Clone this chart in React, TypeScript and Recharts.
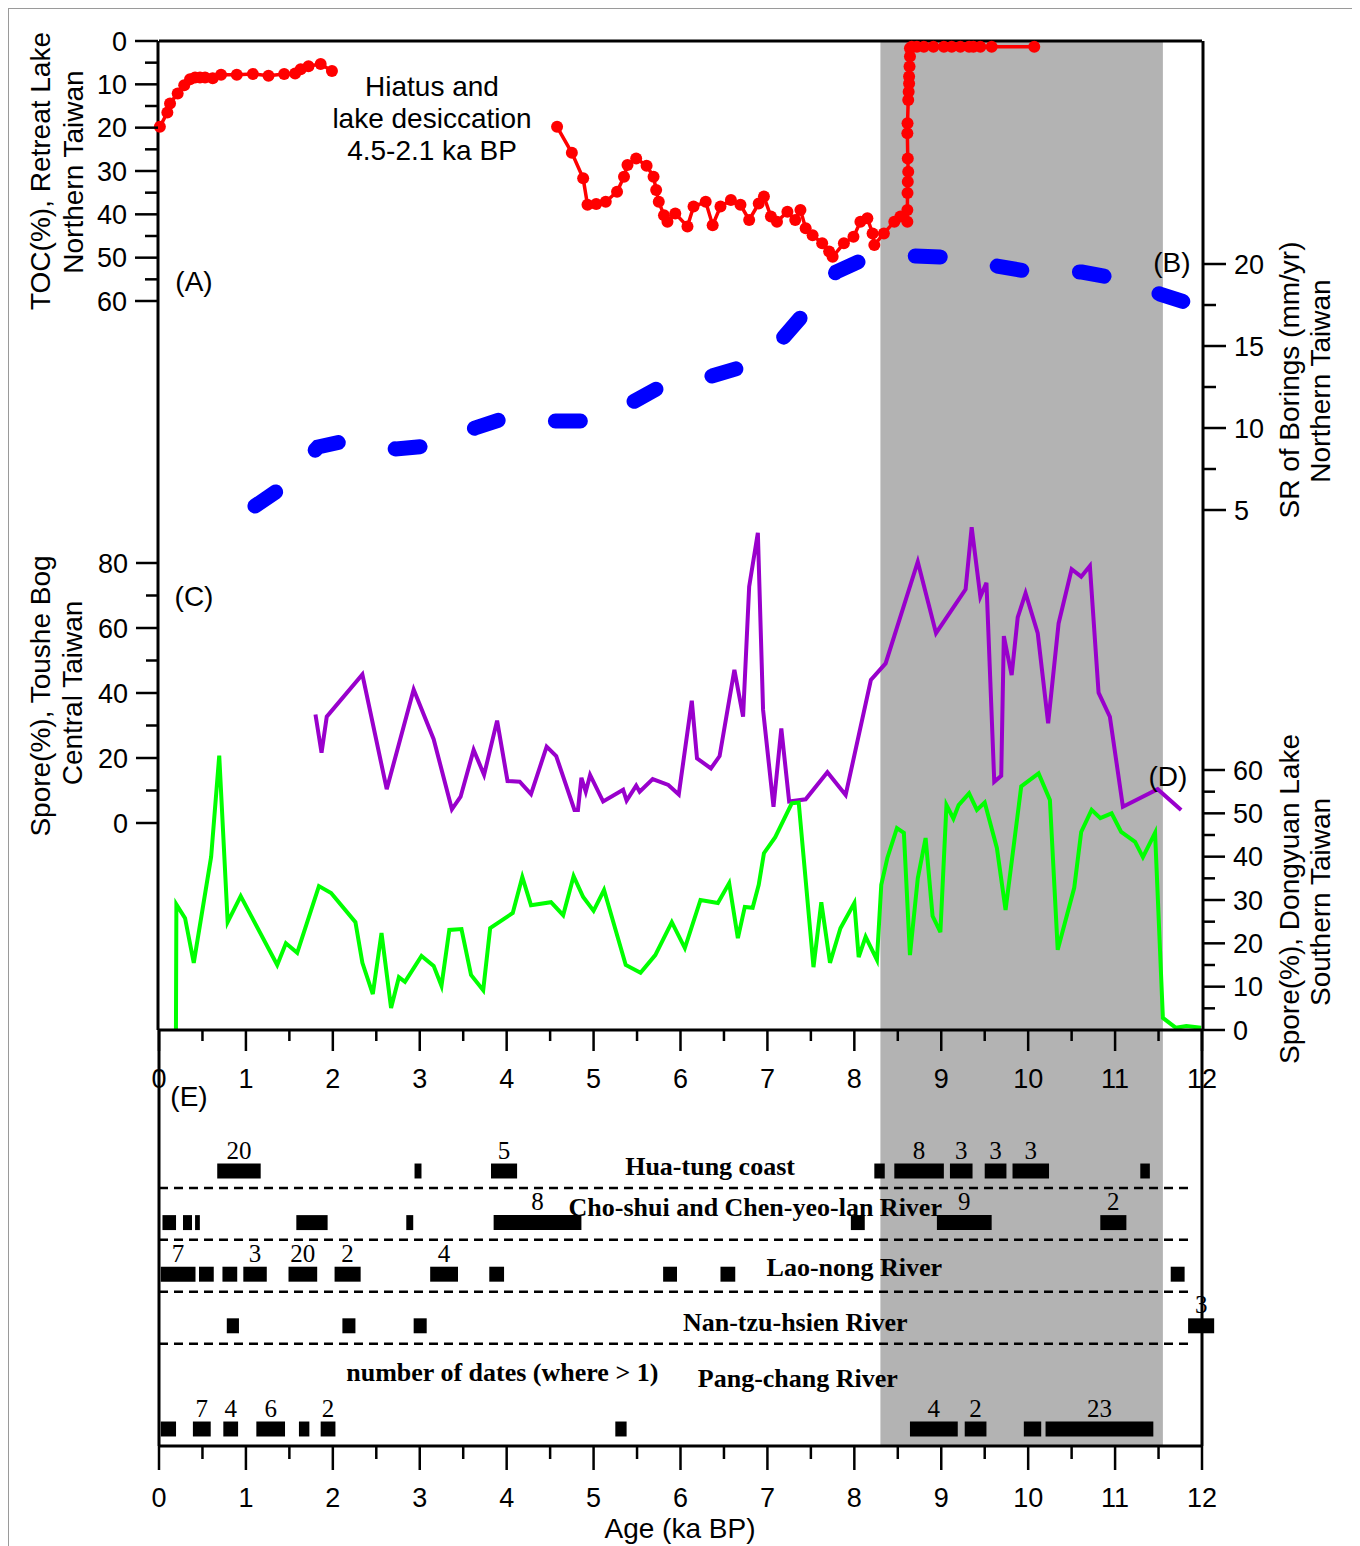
import React from 'react';
import { ComposedChart, Line, XAxis, YAxis, ReferenceArea, ReferenceLine, ReferenceDot } from 'recharts';

// ---------- axis ticks ----------
const AGE_TICKS = [0, 0.5, 1, 1.5, 2, 2.5, 3, 3.5, 4, 4.5, 5, 5.5, 6, 6.5, 7, 7.5, 8, 8.5, 9, 9.5, 10, 10.5, 11, 11.5, 12];
const TOC_TICKS = [0, 5, 10, 15, 20, 25, 30, 35, 40, 45, 50, 55, 60];
const SR_TICKS = [5, 7.5, 10, 12.5, 15, 17.5, 20];
const SPORE_C_TICKS = [0, 10, 20, 30, 40, 50, 60, 70, 80];
const SPORE_D_TICKS = [0, 5, 10, 15, 20, 25, 30, 35, 40, 45, 50, 55, 60];

// shaded interval (ka BP)
const SHADE = [8.3, 11.55];

// ---------- (A) TOC (%), Retreat Lake : [age, TOC] ----------
const TOC_RECENT: [number, number][] = [
  [0.01, 19.8], [0.096, 16.5], [0.127, 14.4], [0.215, 12.1], [0.29, 10.2], [0.357, 8.8], [0.415, 8.4],
  [0.472, 8.4], [0.53, 8.4], [0.618, 8.6], [0.714, 7.8], [0.895, 7.8], [1.08, 7.6], [1.26, 8.0],
  [1.44, 7.6], [1.566, 7.5], [1.63, 6.5], [1.72, 5.8], [1.86, 5.3], [1.99, 6.9],
];
const TOC_EARLY: [number, number][] = [
  [4.58, 19.8], [4.75, 25.8], [4.88, 31.7], [4.93, 37.8], [5.03, 37.6], [5.14, 37.1], [5.27, 34.8],
  [5.35, 31.3], [5.39, 28.6], [5.49, 27.1], [5.61, 28.8], [5.69, 31.3], [5.72, 34.4], [5.75, 37.1],
  [5.81, 40.2], [5.85, 41.7], [5.94, 39.8], [6.08, 42.8], [6.15, 38.2], [6.29, 37.1], [6.37, 42.5],
  [6.46, 38.2], [6.58, 36.7], [6.69, 37.8], [6.79, 41.3], [6.9, 37.5], [6.96, 35.9], [7.04, 40.5],
  [7.11, 41.7], [7.23, 39.4], [7.32, 41.3], [7.38, 39.0], [7.44, 43.2], [7.52, 44.8], [7.63, 46.7],
  [7.71, 48.6], [7.75, 49.8], [7.88, 46.7], [7.99, 45.2], [8.07, 41.7], [8.15, 40.9], [8.21, 44.4],
  [8.23, 47.1], [8.34, 44.4], [8.46, 41.7], [8.53, 40.5], [8.61, 41.7], [8.61, 39.0], [8.612, 35.1],
  [8.615, 32.5], [8.62, 30.2], [8.615, 27.1], [8.61, 21.3], [8.612, 19.0], [8.62, 13.6], [8.625, 11.7],
  [8.63, 9.8], [8.63, 8.2], [8.635, 5.9], [8.64, 3.6], [8.64, 1.7], [8.66, 1.3], [8.72, 1.3],
  [8.8, 1.3], [8.91, 1.3], [9.03, 1.3], [9.12, 1.3], [9.22, 1.3], [9.32, 1.3], [9.37, 1.3],
  [9.45, 1.3], [9.58, 1.3], [10.07, 1.3],
];

// ---------- (B) SR of borings (mm/yr) ----------
const SR_POINTS: [number, number][] = [
  [1.104, 5.24], [1.392, 6.28], [1.829, 8.84], [2.14, 9.21], [2.727, 8.72], [3.095, 8.9],
  [3.636, 10.0], [3.981, 10.61], [4.556, 10.43], [4.936, 10.43], [5.453, 11.59], [5.764, 12.5],
  [6.362, 13.17], [6.707, 13.72], [7.179, 15.49], [7.398, 16.83], [7.79, 19.51], [8.066, 20.18],
  [8.675, 20.49], [9.008, 20.43], [9.641, 19.88], [9.975, 19.57], [10.619, 19.51], [10.918, 19.21],
  [11.516, 18.17], [11.804, 17.68],
];

// ---------- (C) Spore (%), Toushe Bog ----------
const SPORE_C: [number, number][] = [
  [1.8, 33.4], [1.87, 21.6], [1.93, 32.7], [2.34, 45.7], [2.62, 10.4], [2.93, 41.1], [3.16, 25.8],
  [3.37, 4.2], [3.47, 8.1], [3.62, 22.5], [3.74, 14.8], [3.89, 31.5], [4.01, 12.9], [4.15, 12.7],
  [4.28, 8.9], [4.46, 23.5], [4.57, 20.6], [4.78, 4.0], [4.82, 4.0], [4.86, 13.9], [4.91, 9.6],
  [4.96, 14.8], [5.11, 6.6], [5.34, 10.2], [5.38, 6.9], [5.49, 11.5], [5.53, 9.6], [5.68, 13.5],
  [5.86, 11.7], [5.98, 8.8], [6.13, 37.6], [6.19, 19.9], [6.35, 16.8], [6.45, 20.6], [6.62, 47.1],
  [6.72, 32.7], [6.79, 72.7], [6.89, 89.3], [6.95, 34.8], [7.07, 5.0], [7.16, 29.1], [7.25, 6.6],
  [7.44, 7.3], [7.69, 15.6], [7.9, 8.6], [8.19, 44.0], [8.36, 49.1], [8.73, 80.4], [8.94, 58.4],
  [9.28, 71.9], [9.35, 91.0], [9.45, 69.6], [9.52, 73.9], [9.61, 12.7], [9.69, 14.5], [9.72, 57.5],
  [9.81, 45.5], [9.88, 63.3], [9.97, 70.7], [10.11, 58.4], [10.23, 30.7], [10.35, 61.4], [10.5, 78.1],
  [10.61, 75.8], [10.71, 79.1], [10.81, 40.1], [10.94, 32.7], [11.09, 5.0], [11.49, 10.4], [11.76, 4.0],
];

// ---------- (D) Spore (%), Dongyuan Lake ----------
const SPORE_D: [number, number][] = [
  [0.195, 0], [0.2, 29], [0.3, 25.8], [0.4, 15.5], [0.6, 40], [0.693, 63.3], [0.79, 24.9], [0.94, 30.9],
  [1.36, 15], [1.46, 20], [1.59, 17.8], [1.84, 33.2], [1.98, 31.6], [2.26, 24.9], [2.34, 15.5],
  [2.46, 8.3], [2.56, 22.4], [2.67, 5.1], [2.76, 12.2], [2.83, 11.1], [3.02, 17.1], [3.16, 14.8],
  [3.25, 10.2], [3.34, 23.1], [3.48, 23.3], [3.59, 12.7], [3.73, 9.2], [3.81, 23.5], [4.07, 27],
  [4.18, 35.3], [4.28, 28.8], [4.51, 29.5], [4.65, 26.5], [4.77, 35.5], [4.88, 30.7], [5.0, 27.5],
  [5.12, 32.3], [5.37, 15], [5.54, 13.2], [5.71, 17.3], [5.9, 24.9], [6.05, 18.9], [6.23, 30],
  [6.43, 29.3], [6.56, 33.9], [6.66, 21.2], [6.74, 28.4], [6.83, 28.2], [6.9, 33.5], [6.96, 40.8],
  [7.09, 44.5], [7.28, 52.3], [7.36, 52.5], [7.53, 14.5], [7.62, 29.5], [7.72, 15.5], [7.84, 23.5],
  [8.0, 29.3], [8.05, 16.8], [8.13, 21.5], [8.26, 16.2], [8.31, 33.5], [8.38, 39.7], [8.49, 46.6],
  [8.57, 45.5], [8.64, 17.3], [8.73, 35], [8.82, 44.3], [8.9, 26.3], [8.99, 22.6], [9.06, 51.9],
  [9.14, 48.8], [9.2, 51.9], [9.32, 54.6], [9.41, 50.8], [9.5, 52.5], [9.64, 42], [9.74, 27.7],
  [9.92, 56.2], [10.12, 59.2], [10.25, 53.1], [10.34, 18.5], [10.53, 32.8], [10.61, 45.7], [10.73, 50.8],
  [10.83, 48.9], [10.96, 50.0], [11.07, 45.7], [11.23, 43.4], [11.32, 39.9], [11.46, 45.5], [11.55, 2.8],
  [11.7, 0.5], [11.82, 0.9], [11.99, 0.5],
];

// ---------- (E) dated intervals: [start, end, number of dates (0 = not labelled)] ----------
const HUA_TUNG: [number, number, number][] = [
  [0.67, 1.17, 20], [2.94, 3.02, 0], [3.82, 4.12, 5], [8.23, 8.35, 0], [8.46, 9.03, 8],
  [9.1, 9.36, 3], [9.5, 9.75, 3], [9.82, 10.24, 3], [11.29, 11.4, 0],
];
const CHO_SHUI: [number, number, number][] = [
  [0.04, 0.196, 0], [0.276, 0.38, 0], [0.415, 0.47, 0], [1.58, 1.94, 0], [2.845, 2.925, 0],
  [3.85, 4.86, 8], [7.96, 8.12, 0], [8.95, 9.58, 9], [10.83, 11.13, 2],
];
const LAO_NONG: [number, number, number][] = [
  [0.02, 0.42, 7], [0.46, 0.63, 0], [0.73, 0.9, 0], [0.97, 1.24, 3], [1.49, 1.82, 20], [2.02, 2.32, 2],
  [3.12, 3.44, 4], [3.8, 3.97, 0], [5.8, 5.96, 0], [6.46, 6.63, 0], [11.64, 11.8, 0],
];
const NAN_TZU: [number, number, number][] = [
  [0.78, 0.92, 0], [2.11, 2.26, 0], [2.93, 3.08, 0], [11.84, 12.14, 3],
];
const PANG_CHANG: [number, number, number][] = [
  [0.02, 0.196, 0], [0.39, 0.595, 7], [0.74, 0.91, 4], [1.12, 1.45, 6], [1.61, 1.73, 0], [1.86, 2.03, 2],
  [5.25, 5.38, 0], [8.64, 9.19, 4], [9.27, 9.52, 2], [9.95, 10.15, 0], [10.2, 11.44, 23],
];
// row index of each river on panel E axis
const ROWS = [
  { name: 'Hua-tung coast', bars: HUA_TUNG, row: 0, labelAge: 6.34, labelRow: -0.097 },
  { name: 'Cho-shui and Chen-yeo-lan River', bars: CHO_SHUI, row: 1, labelAge: 6.86, labelRow: 0.7 },
  { name: 'Lao-nong River', bars: LAO_NONG, row: 2, labelAge: 8.0, labelRow: 1.86 },
  { name: 'Nan-tzu-hsien River', bars: NAN_TZU, row: 3, labelAge: 7.32, labelRow: 2.93 },
  { name: 'Pang-chang River', bars: PANG_CHANG, row: 5, labelAge: 7.35, labelRow: 4.01 },
];
// dashed separators between rows: row position and extent in age
const SEPARATOR_ROWS = [0.33, 1.33, 2.34, 3.35];
const SEPARATOR_EXTENT = [0, 11.88];

const toObj = (arr: [number, number][]) => arr.map(([age, v]) => ({ age, v }));
const tocRecentData = toObj(TOC_RECENT);
const tocEarlyData = toObj(TOC_EARLY);
const srData = toObj(SR_POINTS);
const sporeCData = toObj(SPORE_C);
const sporeDData = toObj(SPORE_D);

const BLACK = '#000';
const SANS = '"Liberation Sans", Arial, sans-serif';
const SERIF = '"Liberation Serif", "Times New Roman", serif';
const isMajor = (v: number, step: number) => Math.abs(v / step - Math.round(v / step)) < 1e-6;

const sideTick = (side: 'left' | 'right', step: number) => (p: any) => {
  const v = p.payload.value;
  const maj = isMajor(v, step);
  const dir = side === 'left' ? -1 : 1;
  return (
    <g>
      <line x1={p.x} y1={p.y} x2={p.x + dir * (maj ? 23 : 13)} y2={p.y} stroke={BLACK} strokeWidth={2.5} />
      {maj && (
        <text x={p.x + dir * 31} y={p.y} dy="0.36em" textAnchor={side === 'left' ? 'end' : 'start'} fontSize={27} fill={BLACK} fontFamily={SANS}>
          {v}
        </text>
      )}
    </g>
  );
};

const ageTick = (majorLen: number, minorLen: number, labelOffset: number) => (p: any) => {
  const v = p.payload.value;
  const maj = isMajor(v, 1);
  return (
    <g>
      <line x1={p.x} y1={p.y} x2={p.x} y2={p.y + (maj ? majorLen : minorLen)} stroke={BLACK} strokeWidth={2.5} />
      {maj && (
        <text x={p.x} y={p.y + labelOffset} dy="0.36em" textAnchor="middle" fontSize={27} fill={BLACK} fontFamily={SANS}>
          {v}
        </text>
      )}
    </g>
  );
};

const txt = (value: string, extra: any = {}) => ({ value, position: 'center', fontSize: 28, fill: BLACK, fontFamily: SANS, ...extra });

function TopChart() {
  return (
    <ComposedChart width={1348} height={1092} margin={{ top: 33, right: 152, bottom: 10, left: 149 }}>
      <XAxis type="number" dataKey="age" domain={[0, 12]} ticks={AGE_TICKS} interval={0} height={60}
        tickSize={0} tickMargin={0} tickLine={false} tick={ageTick(21, 11, 48)} axisLine={{ stroke: BLACK, strokeWidth: 3 }} />
      <YAxis yAxisId="toc" orientation="left" type="number" domain={[0, 228.23]} reversed ticks={TOC_TICKS} interval={0}
        width={1} tickSize={0} tickMargin={0} tickLine={false} tick={sideTick('left', 10)} axisLine={{ stroke: BLACK, strokeWidth: 3 }} />
      <YAxis yAxisId="sc" orientation="left" type="number" domain={[-63.692, 240.615]} ticks={SPORE_C_TICKS} interval={0}
        width={1} tickSize={0} tickMargin={0} tickLine={false} tick={sideTick('left', 20)} axisLine={false} />
      <YAxis yAxisId="sr" orientation="right" type="number" domain={[-26.707, 33.598]} ticks={SR_TICKS} interval={0}
        width={1} tickSize={0} tickMargin={0} tickLine={false} tick={sideTick('right', 5)} axisLine={{ stroke: BLACK, strokeWidth: 3 }} />
      <YAxis yAxisId="sd" orientation="right" type="number" domain={[0, 228.23]} ticks={SPORE_D_TICKS} interval={0}
        width={1} tickSize={0} tickMargin={0} tickLine={false} tick={sideTick('right', 10)} axisLine={false} />

      <ReferenceArea yAxisId="toc" x1={SHADE[0]} x2={SHADE[1]} fill="#b3b3b3" fillOpacity={1} stroke="none" />
      <ReferenceLine yAxisId="toc" y={0} stroke={BLACK} strokeWidth={3} />

      <Line yAxisId="sr" data={srData} dataKey="v" type="linear" stroke="#0000ff" strokeWidth={15}
        strokeDasharray="25 57.7" strokeLinecap="round" dot={false} isAnimationActive={false} />
      <Line yAxisId="toc" data={tocRecentData} dataKey="v" type="linear" stroke="#ff0000" strokeWidth={3.5}
        dot={{ r: 6, fill: '#ff0000', stroke: 'none' }} isAnimationActive={false} />
      <Line yAxisId="toc" data={tocEarlyData} dataKey="v" type="linear" stroke="#ff0000" strokeWidth={3.5}
        dot={{ r: 6, fill: '#ff0000', stroke: 'none' }} isAnimationActive={false} />
      <Line yAxisId="sc" data={sporeCData} dataKey="v" type="linear" stroke="#9900cc" strokeWidth={4}
        dot={false} isAnimationActive={false} />
      <Line yAxisId="sd" data={sporeDData} dataKey="v" type="linear" stroke="#00ff00" strokeWidth={4}
        dot={false} isAnimationActive={false} />

      <ReferenceDot yAxisId="toc" x={0.403} y={55.38} r={0} stroke="none" fill="none" label={txt('(A)')} />
      <ReferenceDot yAxisId="toc" x={11.654} y={51.0} r={0} stroke="none" fill="none" label={txt('(B)')} />
      <ReferenceDot yAxisId="toc" x={0.403} y={128.08} r={0} stroke="none" fill="none" label={txt('(C)')} />
      <ReferenceDot yAxisId="toc" x={11.608} y={169.6} r={0} stroke="none" fill="none" label={txt('(D)')} />
      <ReferenceDot yAxisId="toc" x={3.141} y={10.38} r={0} stroke="none" fill="none" label={txt('Hiatus and')} />
      <ReferenceDot yAxisId="toc" x={3.141} y={17.77} r={0} stroke="none" fill="none" label={txt('lake desiccation')} />
      <ReferenceDot yAxisId="toc" x={3.141} y={25.15} r={0} stroke="none" fill="none" label={txt('4.5-2.1 ka BP')} />
    </ComposedChart>
  );
}

function BottomChart() {
  return (
    <ComposedChart width={1348} height={516} margin={{ top: 0, right: 154, bottom: 10, left: 150 }}>
      <XAxis type="number" dataKey="age" domain={[0, 12]} ticks={AGE_TICKS} interval={0} height={90}
        tickSize={0} tickMargin={0} tickLine={false} tick={ageTick(24, 13, 51)} axisLine={{ stroke: BLACK, strokeWidth: 3 }} />
      <YAxis yAxisId="e" orientation="left" type="number" domain={[-2.7326, 5.3295]} reversed width={1}
        tick={false} tickLine={false} axisLine={{ stroke: BLACK, strokeWidth: 3 }} />

      <ReferenceArea yAxisId="e" x1={SHADE[0]} x2={SHADE[1]} fill="#b3b3b3" fillOpacity={1} stroke="none" />
      <ReferenceLine yAxisId="e" x={12} stroke={BLACK} strokeWidth={3} />

      {SEPARATOR_ROWS.map((k, i) => (
        <Line key={'sep' + i} yAxisId="e" data={SEPARATOR_EXTENT.map((age) => ({ age, v: k }))} dataKey="v" type="linear"
          stroke={BLACK} strokeWidth={2.5} strokeDasharray="9 6" dot={false} isAnimationActive={false} />
      ))}

      {ROWS.map((r) =>
        r.bars.map(([s, e, n], j) => (
          <ReferenceArea key={r.name + j} yAxisId="e" x1={s} x2={e} y1={r.row - 0.145} y2={r.row + 0.145}
            fill={BLACK} fillOpacity={1} stroke="none" ifOverflow="visible"
            label={n > 0 ? { value: String(n), position: 'top', offset: 5, fontSize: 25, fill: BLACK, fontFamily: SERIF } : undefined} />
        ))
      )}

      {ROWS.map((r) => (
        <ReferenceDot key={'lbl' + r.name} yAxisId="e" x={r.labelAge} y={r.labelRow} r={0} stroke="none" fill="none"
          label={txt(r.name, { fontSize: 26, fontWeight: 'bold', fontFamily: SERIF })} />
      ))}
      <ReferenceDot yAxisId="e" x={3.95} y={3.9} r={0} stroke="none" fill="none"
        label={txt('number of dates (where > 1)', { fontSize: 26, fontWeight: 'bold', fontFamily: SERIF })} />
      <ReferenceDot yAxisId="e" x={0.345} y={-1.453} r={0} stroke="none" fill="none" label={txt('(E)')} />
    </ComposedChart>
  );
}

function Titles() {
  const rot = (x: number, y: number, s: string) => (
    <text transform={`translate(${x},${y}) rotate(-90)`} textAnchor="middle" dy="0.36em" fontSize={28} fill={BLACK} fontFamily={SANS}>
      {s}
    </text>
  );
  return (
    <svg width={1348} height={1538} style={{ position: 'absolute', left: 0, top: 0, pointerEvents: 'none' }}>
      {rot(32, 163, 'TOC(%), Retreat Lake')}
      {rot(65, 164, 'Northern Taiwan')}
      {rot(1281, 372, 'SR of Borings (mm/yr)')}
      {rot(1312, 373, 'Northern Taiwan')}
      {rot(32, 688, 'Spore(%), Toushe Bog')}
      {rot(64, 685, 'Central Taiwan')}
      {rot(1281, 891, 'Spore(%), Dongyuan Lake')}
      {rot(1312, 894, 'Southern Taiwan')}
      <text x={672} y={1520} dy="0.36em" textAnchor="middle" fontSize={28} fill={BLACK} fontFamily={SANS}>Age (ka BP)</text>
    </svg>
  );
}

export default function App() {
  return (
    <div style={{ position: 'relative', width: 1348, height: 1538, fontFamily: SANS, background: '#fff' }}>
      <div style={{ position: 'absolute', left: 0, top: 0, width: 1348, height: 1538, boxSizing: 'border-box',
        borderLeft: '1.5px solid #9a9a9a', borderTop: '1.5px solid #9a9a9a', borderRight: '1.5px solid #9a9a9a' }} />
      <div style={{ position: 'absolute', left: 0, top: 1022 }}>
        <BottomChart />
      </div>
      <div style={{ position: 'absolute', left: 0, top: 0 }}>
        <TopChart />
      </div>
      <Titles />
    </div>
  );
}
